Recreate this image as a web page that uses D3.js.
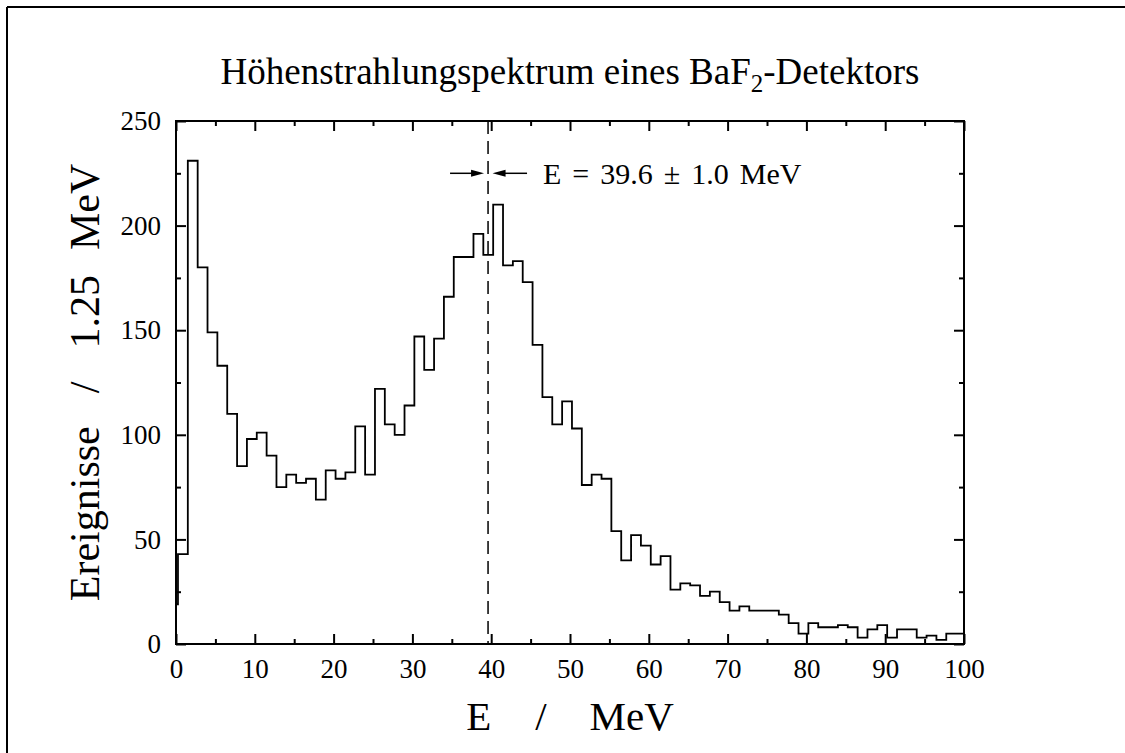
<!DOCTYPE html>
<html>
<head>
<meta charset="utf-8">
<script src="https://cdn.jsdelivr.net/npm/d3@7"></script>
<style>
  html, body { margin: 0; padding: 0; background: #fff; overflow: hidden; }
  svg { display: block; }
  text { font-family: "Liberation Serif", "Times New Roman", serif; fill: #000; }
</style>
</head>
<body>
<script>
// ---------------- data ----------------
const binStart = -1.0;      // MeV, lower edge of the first bin
const binWidth = 1.25;      // MeV
const counts = [
  19, 43, 231, 180, 149, 133, 110, 85, 98, 101,
  90, 75, 81, 77, 79, 69, 83, 79, 82, 104,
  81, 122, 105, 100, 114, 147, 131, 146, 166, 185,
  185, 196, 186, 210, 181, 183, 173, 143, 118, 105,
  116, 103, 76, 81, 79, 54, 40, 52, 47, 38,
  42, 26, 29, 28, 23, 25, 20, 16, 18, 16,
  16, 16, 14, 10, 5, 10, 8, 8, 9, 8,
  3, 7, 9, 3, 7, 7, 3, 4, 2, 5,
  5
];
const xMajorTicks = [0, 10, 20, 30, 40, 50, 60, 70, 80, 90, 100];
const xMinorTicks = [5, 15, 25, 35, 45, 55, 65, 75, 85, 95];
const yMajorTicks = [0, 50, 100, 150, 200, 250];
const yMinorTicks = [25, 75, 125, 175, 225];
const peakE = 39.6;
const arrowLevel = 225;
const titleMain = "Höhenstrahlungspektrum eines BaF";
const titleSub = "2";
const titleEnd = "-Detektors";
const xLabelParts = ["E", "/", "MeV"];
const yLabelParts = ["Ereignisse", "/", "1.25", "MeV"];
const annotation = "E = 39.6 ± 1.0 MeV";

// ---------------- layout ----------------
const W = 1125, H = 753;
const pL = 176, pR = 964, pT = 121, pB = 644;

const svg = d3.select("body").append("svg").attr("width", W).attr("height", H);

// outer frame (only left/top edges fall inside the picture)
svg.append("line").attr("x1", 7).attr("x2", W).attr("y1", 7).attr("y2", 7).attr("stroke", "#000").attr("stroke-width", 2);
svg.append("line").attr("x1", 7).attr("x2", 7).attr("y1", 7).attr("y2", H).attr("stroke", "#000").attr("stroke-width", 2);

const x = d3.scaleLinear().domain([0, 100]).range([pL, pR]);
const y = d3.scaleLinear().domain([0, 250]).range([pB, pT]);

svg.append("defs").append("clipPath").attr("id", "plotclip")
  .append("rect").attr("x", pL).attr("y", pT).attr("width", pR - pL).attr("height", pB - pT);

// histogram
const pts = [[binStart, 0]];
counts.forEach((c, i) => {
  const x0 = binStart + i * binWidth, x1 = x0 + binWidth;
  pts.push([x0, c]); pts.push([x1, c]);
});
pts.push([binStart + counts.length * binWidth, 0]);
const line = d3.line().x(d => x(d[0])).y(d => y(d[1]));
svg.append("path").attr("clip-path", "url(#plotclip)")
  .attr("d", line(pts)).attr("fill", "none").attr("stroke", "#000")
  .attr("stroke-width", 1.8).attr("stroke-linejoin", "miter");

// dashed peak line
svg.append("line").attr("x1", x(peakE)).attr("x2", x(peakE)).attr("y1", y(250)).attr("y2", y(0))
  .attr("stroke", "#000").attr("stroke-width", 1.5).attr("stroke-dasharray", "13,7");

// arrows
function arrow(tipX, tailX, yy) {
  const dir = Math.sign(tipX - tailX);
  svg.append("line").attr("x1", tailX).attr("x2", tipX - dir * 6).attr("y1", yy).attr("y2", yy)
    .attr("stroke", "#000").attr("stroke-width", 1.5);
  svg.append("path").attr("d", `M${tipX},${yy} L${tipX - dir * 13},${yy - 3.5} L${tipX - dir * 13},${yy + 3.5} Z`)
    .attr("fill", "#000");
}
const ay = y(arrowLevel);
arrow(x(peakE) - 4, x(peakE) - 38, ay);
arrow(x(peakE) + 4.5, x(peakE) + 39, ay);
svg.append("text").attr("x", x(peakE) + 55).attr("y", ay + 11).attr("font-size", 30)
  .attr("word-spacing", "3.5px").text(annotation);

// axes frame
svg.append("rect").attr("x", pL).attr("y", pT).attr("width", pR - pL).attr("height", pB - pT)
  .attr("fill", "none").attr("stroke", "#000").attr("stroke-width", 2);

// ticks using d3 axes (inward)
function drawAxis(axisGen, tx, ty) {
  const g = svg.append("g").attr("transform", `translate(${tx},${ty})`).call(axisGen);
  g.select(".domain").remove();
  g.selectAll(".tick line").attr("stroke", "#000").attr("stroke-width", 2);
  return g;
}
// bottom
const gxb = drawAxis(d3.axisBottom(x).tickValues(xMajorTicks).tickSize(-10).tickPadding(15).tickFormat(d3.format("d")), 0, pB);
gxb.selectAll(".tick text").attr("font-size", 27).attr("font-family", "Liberation Serif");
drawAxis(d3.axisBottom(x).tickValues(xMinorTicks).tickSize(-5).tickFormat(""), 0, pB);
// top
drawAxis(d3.axisTop(x).tickValues(xMajorTicks).tickSize(-10).tickFormat(""), 0, pT);
drawAxis(d3.axisTop(x).tickValues(xMinorTicks).tickSize(-5).tickFormat(""), 0, pT);
// left
const gyl = drawAxis(d3.axisLeft(y).tickValues(yMajorTicks).tickSize(-10).tickPadding(15).tickFormat(d3.format("d")), pL, 0);
gyl.selectAll(".tick text").attr("font-size", 27).attr("font-family", "Liberation Serif");
drawAxis(d3.axisLeft(y).tickValues(yMinorTicks).tickSize(-5).tickFormat(""), pL, 0);
// right
drawAxis(d3.axisRight(y).tickValues(yMajorTicks).tickSize(-10).tickFormat(""), pR, 0);
drawAxis(d3.axisRight(y).tickValues(yMinorTicks).tickSize(-5).tickFormat(""), pR, 0);

// title
const cx = (pL + pR) / 2;
const t = svg.append("text").attr("x", cx).attr("y", 84).attr("text-anchor", "middle")
  .attr("font-size", 37);
t.append("tspan").text(titleMain);
t.append("tspan").attr("font-size", 25).attr("dy", 8).text(titleSub);
t.append("tspan").attr("dy", -8).text(titleEnd);

// x axis label (wide spacing as in the original)
const xl = svg.append("text").attr("x", cx).attr("y", 730).attr("font-size", 41).attr("text-anchor", "middle");
xl.append("tspan").text(xLabelParts[0]);
xl.append("tspan").attr("dx", 44).text(xLabelParts[1]);
xl.append("tspan").attr("dx", 43).text(xLabelParts[2]);

// y axis label
const cy = (pT + pB) / 2;
const yl = svg.append("text").attr("transform", `translate(99,${cy}) rotate(-90)`)
  .attr("text-anchor", "middle").attr("font-size", 42);
yl.append("tspan").text(yLabelParts[0]);
yl.append("tspan").attr("dx", 33).text(yLabelParts[1]);
yl.append("tspan").attr("dx", 33).text(yLabelParts[2]);
yl.append("tspan").attr("dx", 25).text(yLabelParts[3]);
</script>
</body>
</html>
